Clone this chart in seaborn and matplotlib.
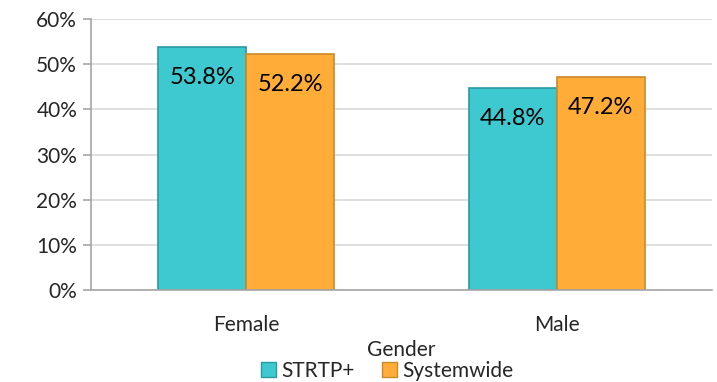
import matplotlib
matplotlib.use("Agg")
import matplotlib.pyplot as plt
import seaborn as sns
import pandas as pd
from matplotlib.ticker import PercentFormatter
from matplotlib.patches import Patch

categories = ["Female", "Male"]
series_names = ["STRTP+", "Systemwide"]
strtp_values = [53.8, 44.8]
systemwide_values = [52.2, 47.2]
y_ticks = [0, 10, 20, 30, 40, 50, 60]

df = pd.DataFrame({
    "Gender": categories * 2,
    "Group": [series_names[0]] * 2 + [series_names[1]] * 2,
    "Value": strtp_values + systemwide_values,
})

sns.set_theme(style="white")
plt.rcParams["font.family"] = ["Lato", "DejaVu Sans"]

colors = ["#3EC9D1", "#FFAC38"]
edges = ["#2A9AA2", "#C98A2A"]

fig = plt.figure(figsize=(7.17, 3.82), dpi=100)
ax = fig.add_axes([0.127, 0.241, 0.866, 0.709])

sns.barplot(data=df, x="Gender", y="Value", hue="Group", palette=colors,
            width=0.567, ax=ax, legend=False, saturation=1)

for i, cont in enumerate(ax.containers):
    for bar in cont:
        bar.set_edgecolor(edges[i])
        bar.set_linewidth(1.2)
    labels = [f"{v:.1f}%" for v in cont.datavalues]
    for bar, lab in zip(cont, labels):
        ax.annotate(lab, (bar.get_x() + bar.get_width() / 2, bar.get_height()),
                    xytext=(0, -22), textcoords="offset points", ha="center",
                    va="center", fontsize=17, color="black")

ax.set_ylim(0, 60)
ax.set_yticks(y_ticks)
ax.yaxis.set_major_formatter(PercentFormatter(decimals=0))
ax.grid(axis="y", color="#D9D9D9", linewidth=1.2)
ax.set_axisbelow(True)
for s in ["top", "right"]:
    ax.spines[s].set_visible(False)
ax.spines["left"].set_color("#A6A6A6")
ax.spines["bottom"].set_color("#A6A6A6")
ax.spines["left"].set_linewidth(1.2)
ax.spines["bottom"].set_linewidth(1.2)
ax.tick_params(axis="y", which="major", direction="out", length=6, width=1.2,
               color="#A6A6A6", left=True, labelsize=15, pad=4)
ax.tick_params(axis="x", length=0, labelsize=15, pad=18)
ax.set_xlim(-0.5, 1.5)
ax.set_ylabel("")
ax.set_xlabel("Gender", fontsize=15, labelpad=4)

handles = [Patch(facecolor=colors[i], edgecolor=edges[i], label=series_names[i])
           for i in range(2)]
fig.legend(handles=handles, loc="center", bbox_to_anchor=(0.54, 0.03), ncol=2,
           frameon=False, fontsize=15, handlelength=0.75, handleheight=0.75,
           handletextpad=0.25, columnspacing=1.3, borderpad=0)

fig.savefig("out.png", dpi=100)
